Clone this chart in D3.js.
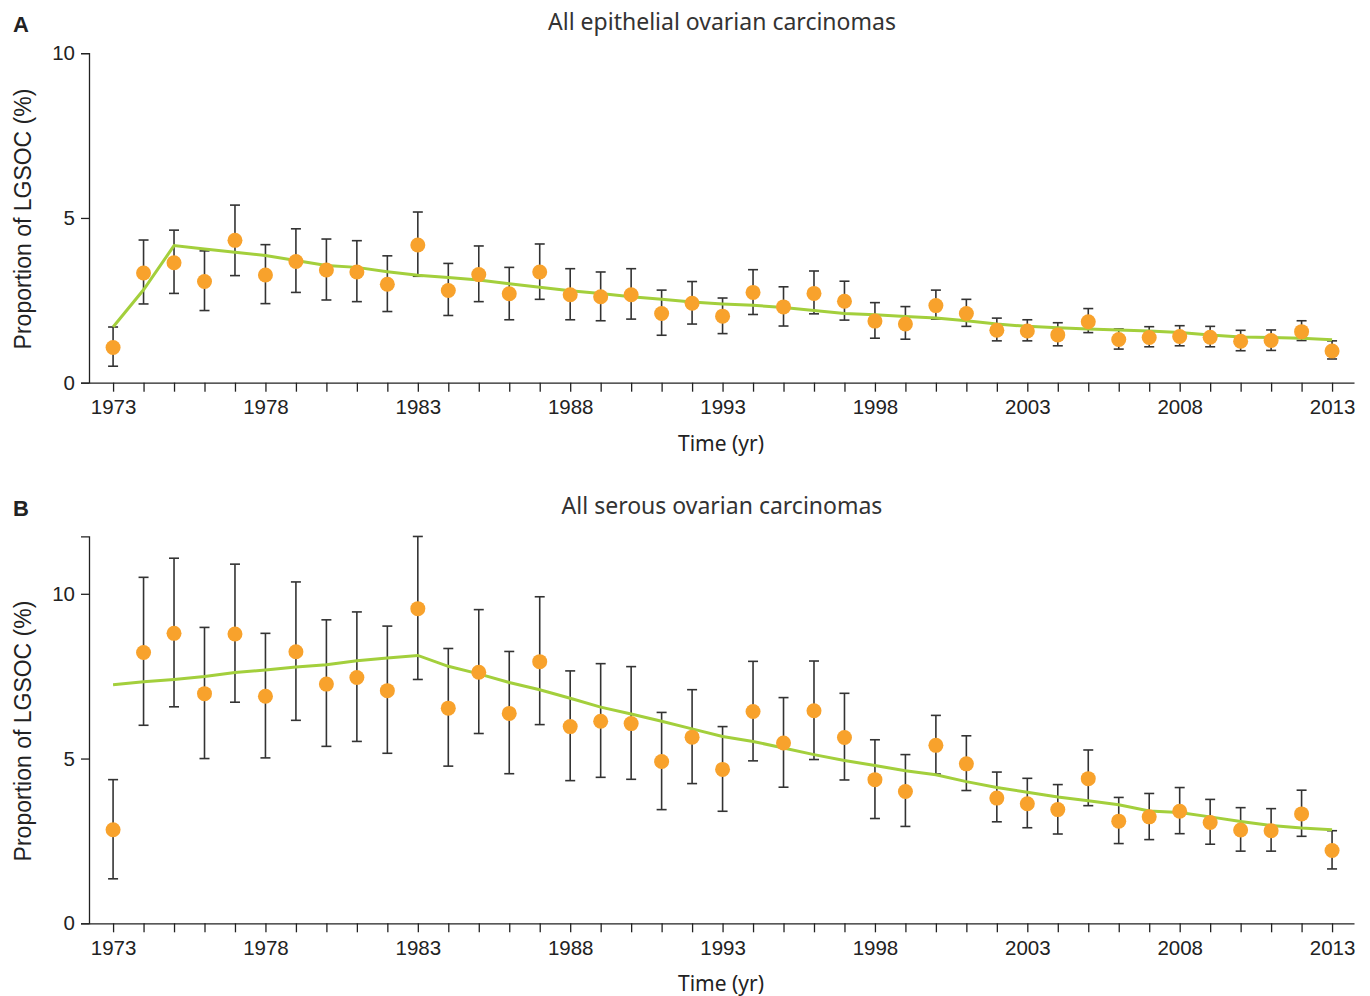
<!DOCTYPE html>
<html>
<head>
<meta charset="utf-8">
<script src="https://cdn.jsdelivr.net/npm/d3@7"></script>
<style>
  body { margin: 0; background: #fff; }
  svg { display: block; }
  .tick text { font-family: "Liberation Sans", Arial, sans-serif; font-size: 20.5px; fill: #222; }
  .domain, .tick line { stroke: #222; stroke-width: 1.3px; }
</style>
</head>
<body>
<svg width="1370" height="996"></svg>
<script>
// years shared by both panels
var years = d3.range(1973, 2014);
var yearLabels = [1973, 1978, 1983, 1988, 1993, 1998, 2003, 2008, 2013];

// panel A: all epithelial ovarian carcinomas
var epiValue = [1.07, 3.33, 3.64, 3.07, 4.32, 3.27, 3.68, 3.42, 3.36, 2.99, 4.18, 2.80,
  3.28, 2.70, 3.36, 2.67, 2.61, 2.67, 2.10, 2.41, 2.02, 2.74, 2.30, 2.71, 2.47, 1.87, 1.78,
  2.34, 2.10, 1.59, 1.57, 1.45, 1.85, 1.31, 1.37, 1.40, 1.38, 1.26, 1.28, 1.55, 0.96];
var epiLower = [0.50, 2.39, 2.71, 2.19, 3.25, 2.40, 2.74, 2.51, 2.46, 2.16, 3.23, 2.04,
  2.46, 1.91, 2.53, 1.91, 1.88, 1.93, 1.44, 1.78, 1.49, 2.07, 1.72, 2.09, 1.90, 1.35, 1.32,
  1.93, 1.71, 1.27, 1.27, 1.12, 1.52, 1.02, 1.09, 1.12, 1.09, 0.97, 0.98, 1.28, 0.72];
var epiUpper = [1.69, 4.33, 4.63, 4.00, 5.39, 4.19, 4.67, 4.36, 4.31, 3.85, 5.18, 3.62,
  4.15, 3.50, 4.21, 3.46, 3.36, 3.46, 2.81, 3.07, 2.57, 3.43, 2.91, 3.39, 3.08, 2.43, 2.31,
  2.81, 2.53, 1.96, 1.91, 1.82, 2.25, 1.63, 1.70, 1.73, 1.71, 1.59, 1.60, 1.88, 1.27];
var epiFit = [1.69, 2.82, 4.16, 4.06, 3.96, 3.86, 3.71, 3.56, 3.50, 3.37, 3.26, 3.19,
  3.12, 3.00, 2.90, 2.79, 2.71, 2.61, 2.53, 2.45, 2.39, 2.35, 2.28, 2.19, 2.10, 2.06, 2.01,
  1.96, 1.88, 1.78, 1.71, 1.67, 1.63, 1.60, 1.57, 1.52, 1.45, 1.39, 1.37, 1.35, 1.30];

// panel B: all serous ovarian carcinomas
var serValue = [2.84, 8.22, 8.80, 6.97, 8.78, 6.89, 8.24, 7.26, 7.46, 7.06, 9.55, 6.53,
  7.62, 6.37, 7.94, 5.97, 6.13, 6.06, 4.91, 5.65, 4.67, 6.43, 5.47, 6.45, 5.64, 4.36, 4.00,
  5.40, 4.84, 3.80, 3.63, 3.45, 4.39, 3.10, 3.23, 3.40, 3.06, 2.83, 2.81, 3.32, 2.21];
var serLower = [1.35, 6.01, 6.57, 5.00, 6.71, 5.02, 6.16, 5.37, 5.52, 5.16, 7.40, 4.77,
  5.76, 4.54, 6.03, 4.33, 4.43, 4.37, 3.45, 4.24, 3.40, 4.93, 4.13, 4.97, 4.35, 3.18, 2.94,
  4.53, 4.03, 3.08, 2.90, 2.71, 3.57, 2.42, 2.54, 2.72, 2.40, 2.19, 2.19, 2.64, 1.65];
var serUpper = [4.36, 10.50, 11.08, 8.98, 10.90, 8.80, 10.36, 9.21, 9.45, 9.02, 11.74, 8.34,
  9.52, 8.25, 9.91, 7.66, 7.88, 7.79, 6.40, 7.09, 5.97, 7.95, 6.85, 7.96, 6.98, 5.57, 5.12,
  6.31, 5.69, 4.59, 4.40, 4.21, 5.26, 3.82, 3.94, 4.12, 3.76, 3.51, 3.48, 4.04, 2.81];
var serFit = [7.24, 7.33, 7.40, 7.49, 7.61, 7.69, 7.78, 7.85, 7.97, 8.05, 8.13, 7.80,
  7.57, 7.31, 7.09, 6.83, 6.56, 6.35, 6.13, 5.90, 5.67, 5.52, 5.32, 5.12, 4.94, 4.79, 4.63,
  4.51, 4.30, 4.12, 3.98, 3.83, 3.72, 3.60, 3.41, 3.36, 3.23, 3.09, 2.97, 2.89, 2.84];

var yTicks = [0, 5, 10];

var svg = d3.select("svg");

var x = d3.scaleLinear()
    .domain([1972.21, 2013.72])
    .range([89, 1354]);

var textFont = "'Noto Sans', 'Open Sans', sans-serif";

function drawPanel(opts) {
  var g = svg.append("g");

  var y = d3.scaleLinear()
      .domain([0, opts.yMax])
      .range([opts.y0, opts.y0 - opts.yMax * 32.95]);

  // x axis
  g.append("g")
      .attr("transform", "translate(0," + opts.y0 + ")")
      .call(d3.axisBottom(x)
          .tickValues(years)
          .tickSize(9)
          .tickSizeOuter(0)
          .tickPadding(8)
          .tickFormat(function(d) { return yearLabels.indexOf(d) >= 0 ? d : ""; }));

  // y axis
  g.append("g")
      .attr("transform", "translate(89,0)")
      .call(d3.axisLeft(y)
          .tickValues(yTicks)
          .tickSize(8)
          .tickSizeOuter(8)
          .tickPadding(6));

  var data = years.map(function(yr, i) {
    return { year: yr, v: opts.value[i], lo: opts.lower[i], hi: opts.upper[i], fit: opts.fit[i] };
  });

  // error bars
  var err = g.append("g")
      .attr("stroke", "#333")
      .attr("stroke-width", 1.6);

  err.selectAll("line.bar")
    .data(data)
    .enter().append("line")
      .attr("class", "bar")
      .attr("x1", function(d) { return x(d.year); })
      .attr("x2", function(d) { return x(d.year); })
      .attr("y1", function(d) { return y(d.lo); })
      .attr("y2", function(d) { return y(d.hi); });

  err.selectAll("line.capHi")
    .data(data)
    .enter().append("line")
      .attr("class", "capHi")
      .attr("x1", function(d) { return x(d.year) - 5; })
      .attr("x2", function(d) { return x(d.year) + 5; })
      .attr("y1", function(d) { return y(d.hi); })
      .attr("y2", function(d) { return y(d.hi); });

  err.selectAll("line.capLo")
    .data(data)
    .enter().append("line")
      .attr("class", "capLo")
      .attr("x1", function(d) { return x(d.year) - 5; })
      .attr("x2", function(d) { return x(d.year) + 5; })
      .attr("y1", function(d) { return y(d.lo); })
      .attr("y2", function(d) { return y(d.lo); });

  // fitted trend line
  var line = d3.line()
      .x(function(d) { return x(d.year); })
      .y(function(d) { return y(d.fit); });

  g.append("path")
      .datum(data)
      .attr("fill", "none")
      .attr("stroke", "#a3cf3c")
      .attr("stroke-width", 3)
      .attr("d", line);

  // observed proportions
  g.selectAll("circle")
    .data(data)
    .enter().append("circle")
      .attr("cx", function(d) { return x(d.year); })
      .attr("cy", function(d) { return y(d.v); })
      .attr("r", 7.5)
      .attr("fill", "#f8a22c");

  // texts
  g.append("text")
      .attr("x", 13)
      .attr("y", opts.titleY + 2)
      .attr("font-family", "'Liberation Sans', Arial, sans-serif")
      .attr("font-weight", "bold")
      .attr("font-size", 22)
      .attr("fill", "#222")
      .text(opts.letter);

  g.append("text")
      .attr("x", 722)
      .attr("y", opts.titleY)
      .attr("text-anchor", "middle")
      .attr("font-family", textFont)
      .attr("font-size", 23)
      .attr("fill", "#333")
      .text(opts.title);

  g.append("text")
      .attr("x", 721)
      .attr("y", opts.y0 + 68)
      .attr("text-anchor", "middle")
      .attr("font-family", textFont)
      .attr("font-size", 21)
      .attr("fill", "#222")
      .text("Time (yr)");

  g.append("text")
      .attr("transform", "translate(31," + opts.labelY + ") rotate(-90)")
      .attr("text-anchor", "middle")
      .attr("font-family", "'Liberation Sans', Arial, sans-serif")
      .attr("font-size", 23)
      .attr("fill", "#222")
      .text("Proportion of LGSOC (%)");
}

drawPanel({
  letter: "A",
  title: "All epithelial ovarian carcinomas",
  titleY: 30,
  labelY: 219,
  y0: 382.7,
  yMax: 10,
  value: epiValue,
  lower: epiLower,
  upper: epiUpper,
  fit: epiFit
});

drawPanel({
  letter: "B",
  title: "All serous ovarian carcinomas",
  titleY: 514,
  labelY: 731,
  y0: 923.3,
  yMax: 11.74,
  value: serValue,
  lower: serLower,
  upper: serUpper,
  fit: serFit
});
</script>
</body>
</html>
